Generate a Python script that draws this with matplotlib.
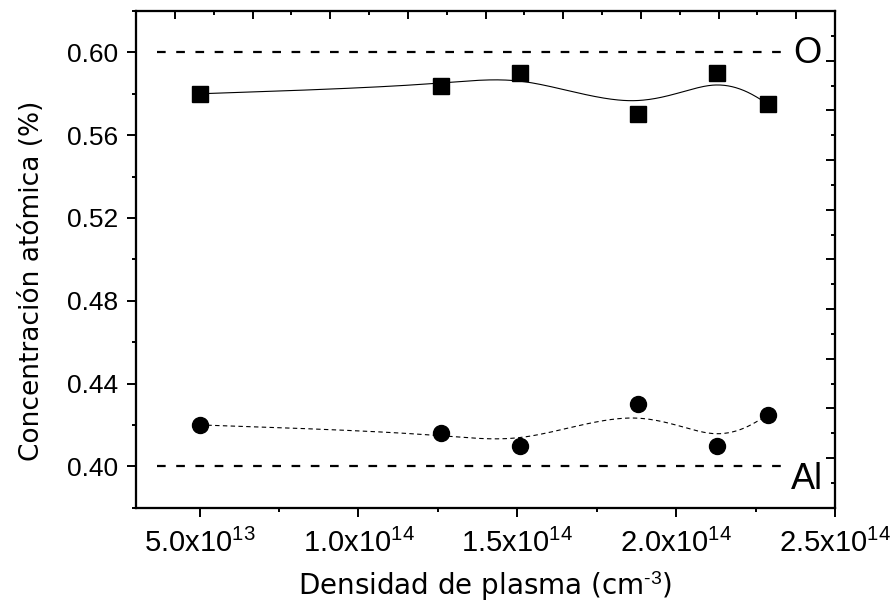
import numpy as np
import matplotlib
matplotlib.use('Agg')
import matplotlib.pyplot as plt
from matplotlib.ticker import FixedLocator, NullFormatter, MultipleLocator

# ---- data ----
density = [5.0e13, 1.26e14, 1.51e14, 1.88e14, 2.13e14, 2.29e14]
oxygen = [0.580, 0.584, 0.590, 0.570, 0.590, 0.575]
aluminium = [0.420, 0.416, 0.410, 0.430, 0.410, 0.425]
ref_levels = [0.60, 0.40]
ref_labels = ['O', 'Al']
xticks = [5.0e13, 1.0e14, 1.5e14, 2.0e14, 2.5e14]
xtick_labels = ['5.0x10$^{13}$', '1.0x10$^{14}$', '1.5x10$^{14}$',
                '2.0x10$^{14}$', '2.5x10$^{14}$']
yticks = [0.40, 0.44, 0.48, 0.52, 0.56, 0.60]
ytick_labels = ['0.40', '0.44', '0.48', '0.52', '0.56', '0.60']

plt.rcParams['font.family'] = ['Liberation Sans', 'DejaVu Sans']
plt.rcParams['mathtext.fontset'] = 'custom'
plt.rcParams['mathtext.rm'] = 'Liberation Sans'
plt.rcParams['mathtext.it'] = 'Liberation Sans:italic'
plt.rcParams['mathtext.bf'] = 'Liberation Sans:bold'


def bspline(x, y, n=60):
    """Uniform cubic B-spline using the points as control points (ends clamped)."""
    P = np.column_stack([x, y]).astype(float)
    Q = np.vstack([P[:1], P[:1], P, P[-1:], P[-1:]])
    t = np.linspace(0, 1, n)
    b0 = (1 - t) ** 3 / 6
    b1 = (3 * t ** 3 - 6 * t ** 2 + 4) / 6
    b2 = (-3 * t ** 3 + 3 * t ** 2 + 3 * t + 1) / 6
    b3 = t ** 3 / 6
    segs = []
    for i in range(len(Q) - 3):
        segs.append(np.outer(b0, Q[i]) + np.outer(b1, Q[i + 1]) +
                    np.outer(b2, Q[i + 2]) + np.outer(b3, Q[i + 3]))
    C = np.vstack(segs)
    return C[:, 0], C[:, 1]


W, H = 891, 616
fig = plt.figure(figsize=(W / 100, H / 100), dpi=100)
L, R, T, B = 136, 835, 11, 507.7
ax = fig.add_axes([L / W, 1 - B / H, (R - L) / W, (B - T) / H])

ax.set_xlim(3e13, 2.5e14)
ax.set_ylim(0.38, 0.62)

# reference levels
for lvl, lab in zip(ref_levels, ref_labels):
    ax.axhline(lvl, xmin=0.030, xmax=0.9256, color='black', lw=1.6,
               linestyle=(0, (3.9, 4.75)), zorder=2)
off = {'O': -7.5, 'Al': -16.0}
for lvl, lab in zip(ref_levels, ref_labels):
    ax.annotate(lab, xy=(0.96, lvl), xycoords=('axes fraction', 'data'),
                xytext=(0, off[lab]), textcoords='offset points',
                ha='center', va='baseline', fontsize=26,
                family='Liberation Sans', color='black')

# curves
sx, sy = bspline(density, oxygen)
ax.plot(sx, sy, color='black', lw=0.8, zorder=3)
cx, cy = bspline(density, aluminium)
ax.plot(cx, cy, color='black', lw=0.8, linestyle=(0, (4, 3)), zorder=3)

ax.plot(density, oxygen, linestyle='none', marker='s', ms=11, color='black', zorder=4)
ax.plot(density, aluminium, linestyle='none', marker='o', ms=11.5, color='black', zorder=4)

# main axes ticks
ax.set_xticks(xticks)
ax.set_xticklabels(xtick_labels)
ax.xaxis.set_minor_locator(MultipleLocator(2.5e13))
ax.set_yticks(yticks)
ax.set_yticklabels(ytick_labels)
ax.yaxis.set_minor_locator(MultipleLocator(0.02))
ax.tick_params(axis='both', which='major', direction='out', length=6.5, width=1.4,
               top=False, right=False)
ax.tick_params(axis='both', which='minor', direction='out', length=3, width=1.4,
               top=False, right=False)
ax.tick_params(axis='x', which='major', pad=9, labelsize=21)
ax.tick_params(axis='y', which='major', pad=6.5, labelsize=19)

for sp in ax.spines.values():
    sp.set_linewidth(1.5)

# top / right axes with their own tick scales
axt = ax.twiny()
axt.set_xlim(0, 9)
axt.xaxis.set_major_locator(FixedLocator(np.arange(0.5, 9, 1.0)))
axt.xaxis.set_minor_locator(FixedLocator(np.arange(0, 10, 1.0)))
axt.xaxis.set_major_formatter(NullFormatter())
axt.tick_params(axis='x', which='major', direction='in', length=6, width=1.4)
axt.tick_params(axis='x', which='minor', direction='in', length=3, width=1.4)

axr = ax.twinx()
axr.set_ylim(0, 10)
axr.yaxis.set_major_locator(FixedLocator(np.arange(0, 11, 1.0)))
axr.yaxis.set_minor_locator(FixedLocator(np.arange(0.5, 10, 1.0)))
axr.yaxis.set_major_formatter(NullFormatter())
axr.tick_params(axis='y', which='major', direction='in', length=6.5, width=1.4)
axr.tick_params(axis='y', which='minor', direction='in', length=3, width=1.4)
for a in (axt, axr):
    for sp in a.spines.values():
        sp.set_linewidth(1.5)

# axis labels
ax.set_xlabel(r'Densidad de plasma (cm$^{\text{-}3}$)', family='DejaVu Sans', fontsize=20)
ax.xaxis.label.set_va('baseline')
ax.xaxis.set_label_coords(0.5, -(595 - B) / (B - T))
ax.set_ylabel('Concentración atómica (%)', family='DejaVu Sans', fontsize=19)
ax.yaxis.set_label_coords(-(L - 45) / (R - L), 1 - (281 - T) / (B - T))

fig.savefig('out.png', dpi=100)
